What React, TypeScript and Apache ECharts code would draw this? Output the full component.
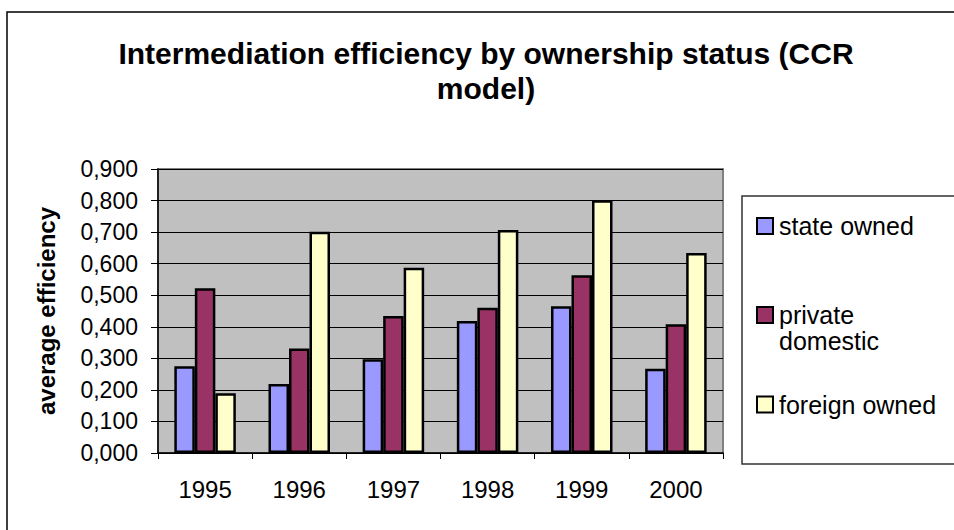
import React, { useEffect, useRef } from "react";
import * as echarts from "echarts";

const years = ["1995", "1996", "1997", "1998", "1999", "2000"];
const stateOwned = [0.275, 0.219, 0.297, 0.418, 0.465, 0.267];
const privateDomestic = [0.522, 0.331, 0.434, 0.46, 0.563, 0.408];
const foreignOwned = [0.189, 0.701, 0.587, 0.707, 0.801, 0.634];
const seriesNames = ["state owned", "private domestic", "foreign owned"];
const seriesColors = ["#9999ff", "#993366", "#ffffcc"];

const FONT = "Liberation Sans, Arial, sans-serif";

export default function App() {
  const ref = useRef<HTMLDivElement>(null);
  useEffect(() => {
    if (!ref.current) return;
    const chart = echarts.init(ref.current, null, { renderer: "svg" });
    const values = [stateOwned, privateDomestic, foreignOwned];
    const legendTops = [213.5, 302.5, 392];
    chart.setOption({
      animation: false,
      backgroundColor: "#ffffff",
      textStyle: { fontFamily: FONT },
      title: {
        text: "Intermediation efficiency by ownership status (CCR\nmodel)",
        left: 486,
        top: 36,
        textAlign: "center",
        padding: 0,
        textStyle: {
          fontFamily: FONT,
          fontSize: 30,
          fontWeight: "bold",
          color: "#000",
          lineHeight: 35,
        },
      },
      legend: seriesNames.map((n, i) => ({
        data: [n],
        orient: "vertical",
        left: 756,
        top: legendTops[i],
        padding: 0,
        itemWidth: 16,
        itemHeight: 16,
        itemGap: 0,
        icon: "rect",
        selectedMode: false,
        formatter: i === 1 ? () => "private" : undefined,
        textStyle: {
          fontFamily: FONT,
          fontSize: 25,
          lineHeight: 25,
          color: "#000",
          padding: [0, 0, 0, 1],
        },
      })),
      grid: { left: 158, top: 169, right: 231, bottom: 77, containLabel: false },
      xAxis: {
        type: "category",
        data: years,
        axisLine: { show: true, lineStyle: { color: "#000", width: 1.5 } },
        axisTick: { show: true, length: 6, lineStyle: { color: "#000", width: 1 } },
        axisLabel: {
          fontFamily: FONT,
          fontSize: 24,
          lineHeight: 24,
          color: "#000",
          margin: 24,
        },
        splitLine: { show: false },
      },
      yAxis: {
        type: "value",
        min: 0,
        max: 0.9,
        interval: 0.1,
        name: "average efficiency",
        nameLocation: "middle",
        nameRotate: 90,
        nameGap: 100,
        nameTextStyle: {
          fontFamily: FONT,
          fontSize: 24,
          fontWeight: "bold",
          color: "#000",
        },
        axisLine: { show: true, lineStyle: { color: "#000", width: 1.5 } },
        axisTick: { show: true, length: 7, lineStyle: { color: "#000", width: 1 } },
        axisLabel: {
          fontFamily: FONT,
          fontSize: 23,
          color: "#000",
          margin: 20,
          formatter: (v: number) => v.toFixed(3).replace(".", ","),
        },
        splitLine: { show: true, lineStyle: { color: "#000", width: 1.2 } },
        splitArea: { show: false },
      },
      graphic: [
        {
          type: "rect",
          z: -10,
          shape: { x: 7, y: 12, width: 960, height: 540 },
          style: { fill: "none", stroke: "#000", lineWidth: 1.5 },
        },
        {
          type: "rect",
          z: -5,
          shape: { x: 158, y: 169, width: 565, height: 284 },
          style: { fill: "#c0c0c0", stroke: "#808080", lineWidth: 2 },
        },
        {
          type: "rect",
          shape: { x: 742, y: 196, width: 230, height: 268 },
          style: { fill: "#fff", stroke: "#333", lineWidth: 1.5 },
          z: -4,
        },
        {
          type: "text",
          x: 779,
          y: 341,
          style: {
            text: "domestic",
            fontFamily: FONT,
            fontSize: 25,
            fill: "#000",
            verticalAlign: "middle",
            align: "left",
          },
        },
      ],
      series: seriesNames.map((n, i) => ({
        name: n,
        type: "bar",
        data: values[i],
        barWidth: 20.5,
        barGap: "0%",
        itemStyle: { color: seriesColors[i], borderColor: "#000", borderWidth: 2.5 },
      })),
    });
    return () => chart.dispose();
  }, []);
  return (
    <div
      ref={ref}
      style={{ position: "fixed", left: 0, top: 0, width: 954, height: 530, background: "#fff" }}
    />
  );
}
